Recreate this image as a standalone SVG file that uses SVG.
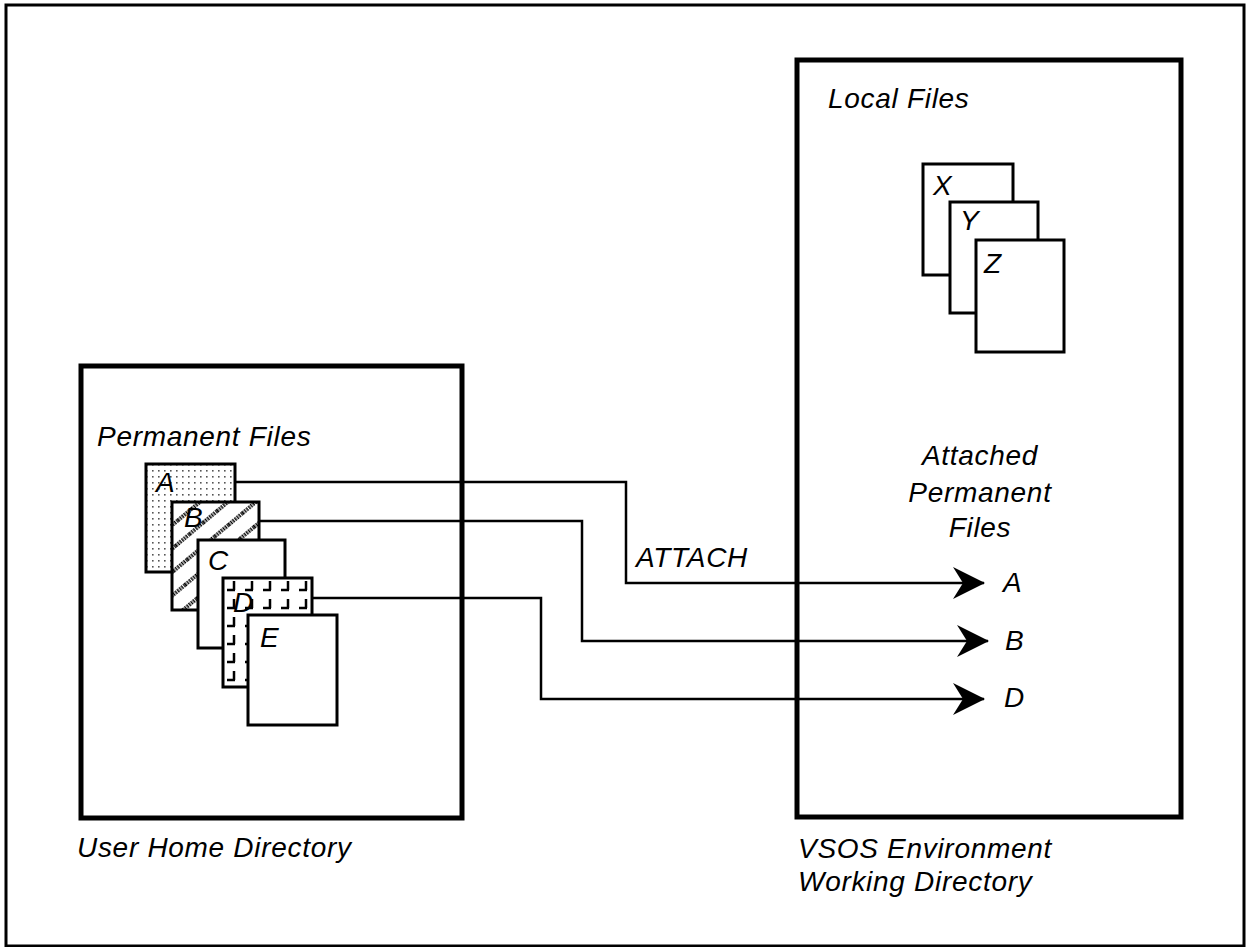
<svg xmlns="http://www.w3.org/2000/svg" width="1249" height="947" viewBox="0 0 1249 947">
<style>
.t{font-family:"Liberation Sans",Arial,sans-serif;font-style:italic;font-size:28px;fill:#000;letter-spacing:0.7px}
.card{stroke:#000;stroke-width:3;fill:#fff}
.dots{fill:url(#dots)}
.hatch{fill:url(#hatch)}
.brick{fill:url(#brick)}
.box{stroke:#000;stroke-width:5;fill:none}
.conn{stroke:#000;stroke-width:2.5;fill:none}
</style>
<defs>
<pattern id="dots" width="6" height="6" patternUnits="userSpaceOnUse">
<rect width="6" height="6" fill="#fff"/>
<rect x="2" y="2" width="1.6" height="1.6" fill="#555"/>
</pattern>
<pattern id="hatch" width="18" height="18" patternUnits="userSpaceOnUse" patternTransform="rotate(-40)">
<rect width="18" height="18" fill="#fff"/>
<line x1="0" y1="9" x2="18" y2="9" stroke="#000" stroke-width="4" stroke-dasharray="1.5 1.2"/>
</pattern>
<pattern id="brick" width="18" height="18" patternUnits="userSpaceOnUse" x="223" y="578">
<rect width="18" height="18" fill="#fff"/>
<path d="M11 3 V12 M4 12 H12" stroke="#000" stroke-width="2.5" fill="none"/>
</pattern>
<marker id="arr" viewBox="0 0 32 32" refX="31" refY="16" markerWidth="32" markerHeight="32" markerUnits="userSpaceOnUse" orient="auto">
<path d="M0 0 L32 16 L0 32 L10 16 Z" fill="#000"/>
</marker>
</defs>
<rect x="6" y="5" width="1238" height="941" fill="none" stroke="#000" stroke-width="3"/>

<g id="home-dir">
<rect class="box" x="81" y="366" width="381" height="452"/>
<text class="t" x="97" y="446">Permanent Files</text>
<text class="t" x="77" y="857">User Home Directory</text>
</g>

<g id="file-A"><rect class="card dots" x="146" y="464" width="89" height="108"/><text class="t" x="156" y="492">A</text></g>
<g id="file-B"><rect class="card hatch" x="172" y="502" width="87" height="108"/><text class="t" x="184" y="527">B</text></g>
<g id="file-C"><rect class="card" x="198" y="540" width="87" height="108"/><text class="t" x="208" y="570">C</text></g>
<g id="file-D"><rect class="card brick" x="223" y="578" width="89" height="109"/><text class="t" x="233" y="612">D</text></g>
<g id="file-E"><rect class="card" x="248" y="615" width="89" height="110"/><text class="t" x="260" y="647">E</text></g>

<g id="work-dir">
<rect class="box" x="797" y="60" width="384" height="757"/>
<text class="t" x="828" y="108">Local Files</text>
<text class="t" x="980" y="465" text-anchor="middle">Attached</text>
<text class="t" x="980" y="502" text-anchor="middle">Permanent</text>
<text class="t" x="980" y="537" text-anchor="middle">Files</text>
<text class="t" x="798" y="858">VSOS Environment</text>
<text class="t" x="798" y="891">Working Directory</text>
</g>

<g id="file-X"><rect class="card" x="923" y="164" width="90" height="111"/><text class="t" x="933" y="195">X</text></g>
<g id="file-Y"><rect class="card" x="950" y="202" width="88" height="111"/><text class="t" x="960" y="230">Y</text></g>
<g id="file-Z"><rect class="card" x="976" y="240" width="88" height="112"/><text class="t" x="984" y="273">Z</text></g>

<g id="connectors">
<path class="conn" d="M235 482 H626 V583 H984" marker-end="url(#arr)"/>
<path class="conn" d="M259 521 H582 V641 H988" marker-end="url(#arr)"/>
<path class="conn" d="M312 598 H541 V699 H984" marker-end="url(#arr)"/>
<text class="t" x="636" y="567">ATTACH</text>
<text class="t" x="1003" y="592">A</text>
<text class="t" x="1005" y="650">B</text>
<text class="t" x="1004" y="707">D</text>
</g>
</svg>
